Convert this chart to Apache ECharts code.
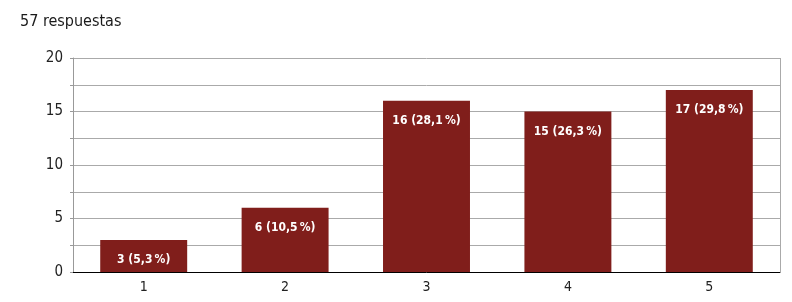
<!DOCTYPE html>
<html><head><meta charset="utf-8">
<script src="https://cdn.jsdelivr.net/npm/echarts@6/dist/echarts.min.js"></script>
<style>html,body{margin:0;padding:0;background:#fff}#c{width:792px;height:302px}</style>
</head><body><div id="c"></div>
<script>
const titleText = '57 respuestas';
const categories = ['1', '2', '3', '4', '5'];
const counts = [3, 6, 16, 15, 17];
const percents = ['5,3', '10,5', '28,1', '26,3', '29,8'];
const yTicks = [0, 5, 10, 15, 20];

const FONT = "'Liberation Sans Narrow', 'DejaVu Sans Condensed', sans-serif";
const chart = echarts.init(document.getElementById('c'), null, {renderer: 'canvas'});
chart.setOption({
  animation: false,
  title: {text: titleText, left: 15, top: 9, textStyle: {fontFamily: FONT, fontSize: 16, fontWeight: 'normal', color: '#1a1a1a'}},
  grid: {left: 73, right: 12, top: 58, bottom: 30},
  xAxis: {
    type: 'category', data: categories,
    axisLine: {lineStyle: {color: '#000', width: 1}},
    axisTick: {show: false},
    axisLabel: {fontFamily: FONT, fontSize: 14, color: '#222', margin: 8}
  },
  yAxis: {
    type: 'value', min: yTicks[0], max: yTicks[yTicks.length - 1], interval: 2.5,
    axisLine: {show: true, lineStyle: {color: '#999'}},
    axisTick: {show: true, length: 3, lineStyle: {color: '#999'}},
    splitLine: {lineStyle: {color: '#aaa'}},
    axisLabel: {fontFamily: FONT, fontSize: 15, color: '#222', margin: 10,
      formatter: v => yTicks.includes(v) ? String(v) : ''}
  },
  series: [{
    type: 'bar', data: counts, barWidth: '61.5%',
    itemStyle: {color: '#801e1b'},
    label: {show: true, position: 'insideTop', distance: 14,
      fontFamily: FONT, fontSize: 12, fontWeight: 'bold', color: '#fff',
      formatter: p => p.value + ' (' + percents[p.dataIndex] + '\u2009%)'}
  }],
  graphic: [{type: 'line', shape: {x1: 780.5, y1: 58, x2: 780.5, y2: 272}, style: {stroke: '#aaa', lineWidth: 1}}]
});
</script></body></html>
